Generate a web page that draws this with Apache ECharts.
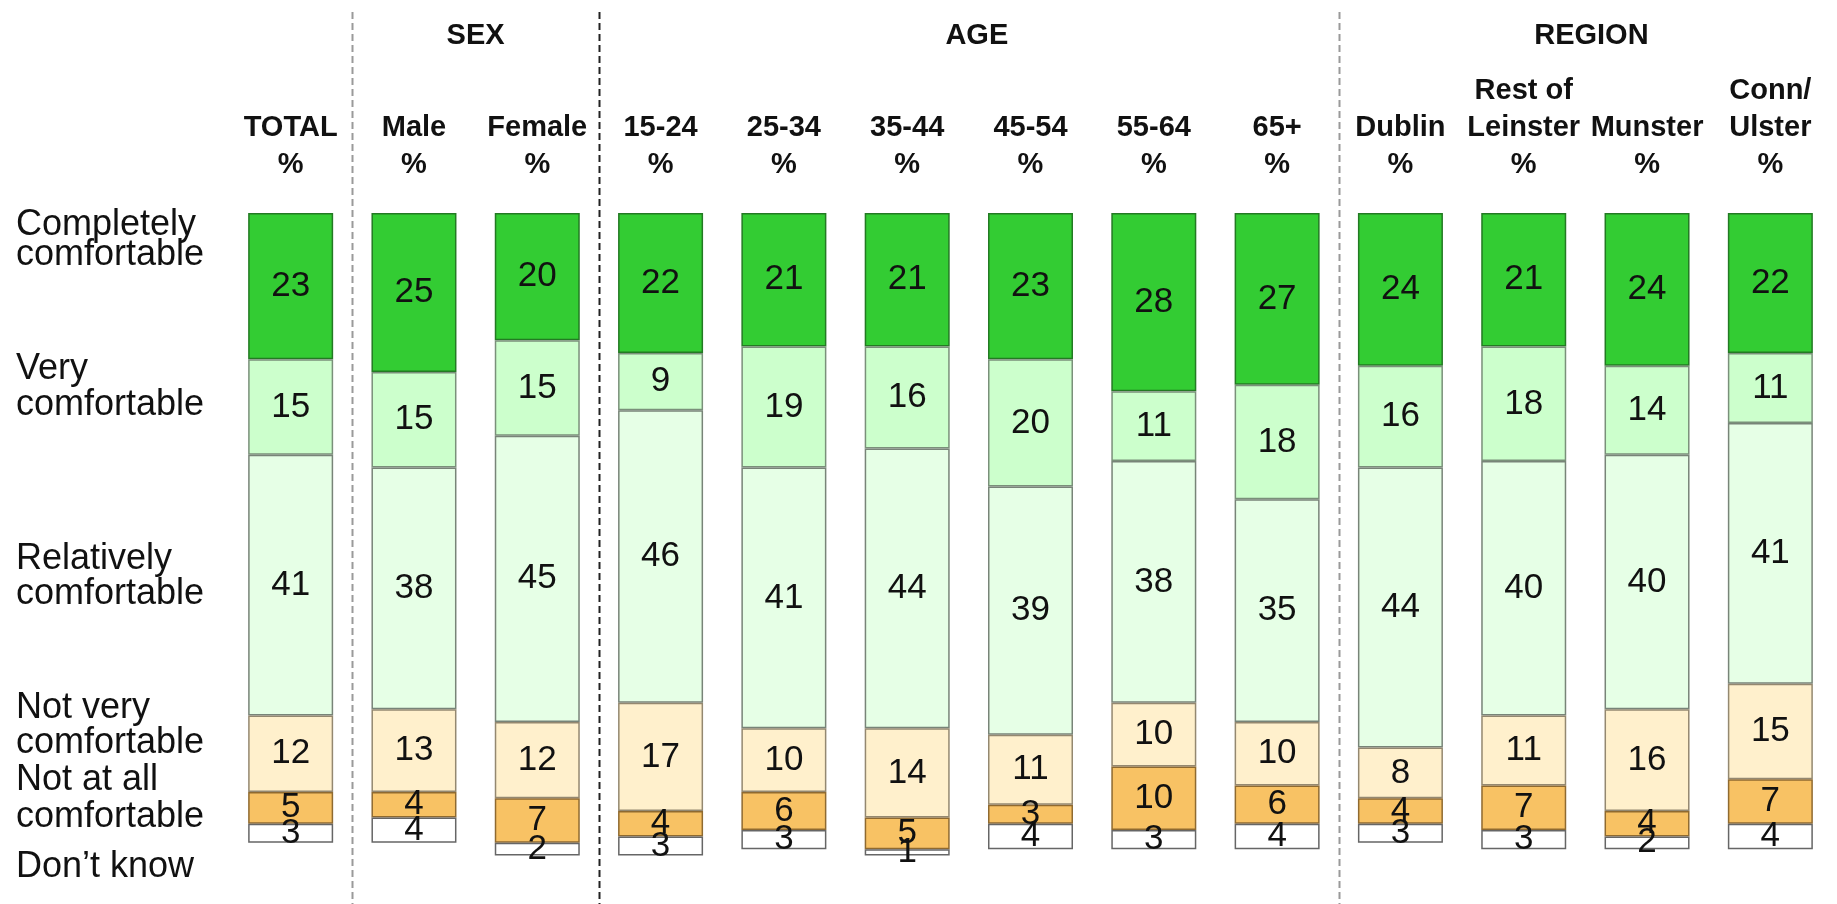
<!DOCTYPE html>
<html>
<head>
<meta charset="utf-8">
<script src="https://cdn.jsdelivr.net/npm/echarts@6/dist/echarts.min.js"></script>
<style>
html,body{margin:0;padding:0;background:#fff;}
#c{width:1837px;height:904px;}
</style>
</head>
<body>
<div id="c"></div>
<script>
// ---- DATA ----
const categories = ['TOTAL','Male','Female','15-24','25-34','35-44','45-54','55-64','65+','Dublin','Rest of\nLeinster','Munster','Conn/\nUlster'];
const seriesNames = ['Completely comfortable','Very comfortable','Relatively comfortable','Not very comfortable','Not at all comfortable',"Don't know"];
const completely = [23,25,20,22,21,21,23,28,27,24,21,24,22];
const very       = [15,15,15, 9,19,16,20,11,18,16,18,14,11];
const relatively = [41,38,45,46,41,44,39,38,35,44,40,40,41];
const notVery    = [12,13,12,17,10,14,11,10,10, 8,11,16,15];
const notAtAll   = [ 5, 4, 7, 4, 6, 5, 3,10, 6, 4, 7, 4, 7];
const dontKnow   = [ 3, 4, 2, 3, 3, 1, 4, 3, 4, 3, 3, 2, 4];
const groupNames = ['SEX','AGE','REGION'];
const groupRanges = [[1,2],[3,8],[9,12]];
const rowLabelLines = [['Completely','comfortable'],['Very','comfortable'],['Relatively','comfortable'],['Not very','comfortable'],['Not at all','comfortable'],["Don\u2019t know"]];

// ---- STYLE / LAYOUT ----
const FONT = '"Liberation Sans", Arial, sans-serif';
const colors = ['#33cc33','#ccffcc','#e6ffe6','#fff0cc','#f8c264','#ffffff'];
const borders = ['#237a23','#7a907a','#788478','#948870','#8f6a30','#666666'];
const rowLabelY = [[225,255],[369,405],[559,594],[708,743],[780,817],[867]];
const groupOffsets = [0, 8, 6];
const separators = [{after:0,color:'#9a9a9a'},{after:2,color:'#222222'},{after:8,color:'#9a9a9a'}];

const allValues = [completely, very, relatively, notVery, notAtAll, dontKnow];

const chart = echarts.init(document.getElementById('c'), null, {renderer:'canvas'});

const series = allValues.map((vals, i) => ({
  name: seriesNames[i],
  type: 'bar',
  stack: 'all',
  barWidth: 85,
  data: vals,
  itemStyle: {color: colors[i], borderColor: borders[i], borderWidth: 1.5},
  label: {
    show: true, position: 'inside', color: '#111',
    fontFamily: FONT, fontSize: 35
  },
  emphasis: {disabled: true}
}));

chart.setOption({
  animation: false,
  grid: {left: 229, right: 5, top: 213, bottom: 23},
  xAxis: {
    type: 'category', position: 'top', data: categories,
    axisLine: {show:false}, axisTick: {show:false},
    axisLabel: {
      interval: 0, margin: 30, fontFamily: FONT, fontSize: 29, fontWeight: 'bold',
      color: '#111', lineHeight: 37,
      formatter: v => v + '\n%'
    }
  },
  yAxis: {type:'value', min:0, max:105, inverse:true, show:false, splitLine:{show:false}},
  series: series
});

// Graphic overlays computed through the axis scale
const cx = i => chart.convertToPixel({xAxisIndex:0}, categories[i]);
const graphics = [];
separators.forEach(s => {
  const x = Math.round((cx(s.after) + cx(s.after+1)) / 2) + 0.5;
  graphics.push({type:'line', shape:{x1:x, y1:12, x2:x, y2:904},
    style:{stroke:s.color, lineWidth:2, lineDash:[7,4]}, silent:true});
});
groupNames.forEach((g, k) => {
  const [a,b] = groupRanges[k];
  const x = (cx(a) + cx(b)) / 2 + groupOffsets[k];
  graphics.push({type:'text', x:x, y:36, silent:true,
    style:{text:g, fontFamily:FONT, fontSize:29, fontWeight:'bold', fill:'#111', align:'center', verticalAlign:'middle'}});
});
rowLabelLines.forEach((lines, r) => {
  lines.forEach((t, j) => {
    graphics.push({type:'text', x:16, y:rowLabelY[r][j], silent:true,
      style:{text:t, fontFamily:FONT, fontSize:36, fill:'#111', align:'left', verticalAlign:'middle'}});
  });
});
chart.setOption({graphic: graphics});
</script>
</body>
</html>
